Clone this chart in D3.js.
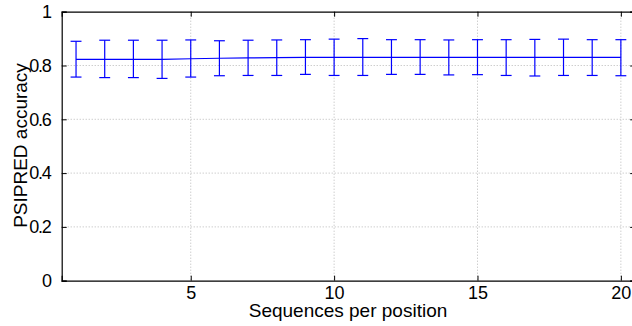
<!DOCTYPE html>
<html>
<head>
<meta charset="utf-8">
<script src="https://cdn.jsdelivr.net/npm/d3@7"></script>
<style>
  body { margin: 0; background: #fff; }
  text { font-family: "Liberation Sans", Arial, sans-serif; fill: #000; }
</style>
</head>
<body>
<div class="chart"></div>
<script>
const seqs = d3.range(1, 21)
const meanAcc = [0.823, 0.823, 0.823, 0.823, 0.825, 0.827, 0.828, 0.829, 0.830, 0.830,
                 0.830, 0.830, 0.830, 0.830, 0.830, 0.830, 0.830, 0.830, 0.830, 0.830]
const upperAcc = [0.890, 0.894, 0.894, 0.894, 0.895, 0.892, 0.894, 0.895, 0.896, 0.898,
                  0.900, 0.896, 0.896, 0.895, 0.896, 0.896, 0.897, 0.898, 0.896, 0.896]
const lowerAcc = [0.757, 0.755, 0.755, 0.752, 0.757, 0.762, 0.763, 0.763, 0.767, 0.763,
                  0.763, 0.767, 0.767, 0.765, 0.766, 0.763, 0.761, 0.763, 0.763, 0.762]
const xTicks = [5, 10, 15, 20]
const yTicks = [0, 0.2, 0.4, 0.6, 0.8, 1]

const data = seqs.map((s, i) => ({s: s, mean: meanAcc[i], hi: upperAcc[i], lo: lowerAcc[i]}))

const margin = ({top: 11.7, left: 61.7})
const width = 573.5, height = 269

const svg = d3.select(".chart").append("svg")
  .attr("width", 632)
  .attr("height", 326)

const g = svg.append("g")
  .attr("transform", `translate(${margin.left},${margin.top})`)

const xScale = d3.scaleLinear().domain([0.5, 20.5]).range([0, width])
const yScale = d3.scaleLinear().domain([0, 1]).range([height, 0])

// grid
g.append("g").selectAll("line")
  .data(xTicks)
  .enter().append("line")
  .attr("x1", d => xScale(d)).attr("x2", d => xScale(d))
  .attr("y1", 0).attr("y2", height)
  .attr("stroke", "#b8b8b8").attr("stroke-dasharray", "1,2")

g.append("g").selectAll("line")
  .data(yTicks.filter(d => d > 0 && d < 1))
  .enter().append("line")
  .attr("x1", 0).attr("x2", width)
  .attr("y1", d => yScale(d)).attr("y2", d => yScale(d))
  .attr("stroke", "#b8b8b8").attr("stroke-dasharray", "1,2")

// axes
const xAxis = d3.axisBottom(xScale).tickValues(xTicks).tickSize(-5).tickPadding(6)
const xAxisTop = d3.axisTop(xScale).tickValues(xTicks).tickSize(-5).tickFormat('')
const yAxis = d3.axisLeft(yScale).tickValues(yTicks).tickSize(-5).tickPadding(11).tickFormat(d => d)
const yAxisRight = d3.axisRight(yScale).tickValues(yTicks).tickSize(-5).tickFormat('')

g.append("g").attr("transform", `translate(0,${height})`).call(xAxis).call(styleAxis)
g.append("g").call(xAxisTop).call(styleAxis)
g.append("g").call(yAxis).call(styleAxis)
  .selectAll("text").attr("letter-spacing", "-1.2px")
g.append("g").attr("transform", `translate(${width},0)`).call(yAxisRight).call(styleAxis)

function styleAxis(a) {
  a.select(".domain").attr("stroke", "#000").attr("stroke-width", 1.2)
  a.selectAll(".tick line").attr("stroke", "#000")
  a.selectAll("text").attr("font-size", 18).attr("font-family", "Liberation Sans, Arial, sans-serif")
}

// line
const line = d3.line()
  .x(d => xScale(d.s))
  .y(d => yScale(d.mean))

g.append("path")
  .datum(data)
  .attr("fill", "none")
  .attr("stroke", "#0000ff")
  .attr("stroke-width", 1.2)
  .attr("d", line)

// error bars
const cap = 0.19
const bars = g.append("g").selectAll("g")
  .data(data)
  .enter().append("g")
  .attr("stroke", "#0000ff")
  .attr("stroke-width", 1.2)

bars.append("line")
  .attr("x1", d => xScale(d.s)).attr("x2", d => xScale(d.s))
  .attr("y1", d => yScale(d.lo)).attr("y2", d => yScale(d.hi))
bars.append("line")
  .attr("x1", d => xScale(d.s - cap)).attr("x2", d => xScale(d.s + cap))
  .attr("y1", d => yScale(d.hi)).attr("y2", d => yScale(d.hi))
bars.append("line")
  .attr("x1", d => xScale(d.s - cap)).attr("x2", d => xScale(d.s + cap))
  .attr("y1", d => yScale(d.lo)).attr("y2", d => yScale(d.lo))

// labels
svg.append("text")
  .attr("x", 348)
  .attr("y", 317)
  .attr("text-anchor", "middle")
  .attr("font-size", 19)
  .text("Sequences per position")

svg.append("text")
  .attr("transform", "translate(27,145.5) rotate(-90)")
  .attr("text-anchor", "middle")
  .attr("font-size", 19)
  .text("PSIPRED accuracy")
</script>
</body>
</html>
